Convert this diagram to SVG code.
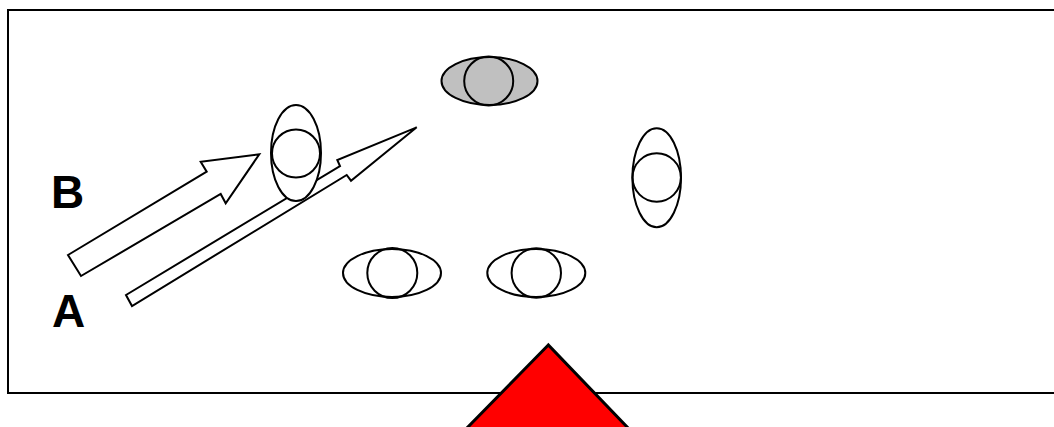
<svg xmlns="http://www.w3.org/2000/svg" width="1054" height="427" viewBox="0 0 1054 427">
<style>
.o{fill:#fff;stroke:#000;stroke-width:2}
.g{fill:#c0c0c0;stroke:#000;stroke-width:2}
.n{fill:none;stroke:#000;stroke-width:2}
.lbl{font-family:"Liberation Sans",Arial,sans-serif;font-weight:bold;font-size:46px;fill:#000}
</style>
<rect x="0" y="0" width="1054" height="427" fill="#fff"/>
<rect id="frame" x="8" y="10" width="1060" height="383" fill="#fff" stroke="#000" stroke-width="2"/>
<g id="connectors">
<polygon id="arrowB" class="o" points="68,255 206.7,171.7 200.7,161.7 259.3,154.3 225.7,203.3 220.7,194 81,276"/>
<polygon id="arrowA" class="o" points="126,295 340,166 337.3,160 416.7,127.3 351,180.7 346.7,175 132,306"/>
</g>
<g id="node1"><ellipse class="o" cx="296" cy="153" rx="25" ry="48"/><circle class="n" cx="296" cy="153.5" r="24"/></g>
<g id="node2"><ellipse class="g" cx="489.5" cy="81" rx="48" ry="24"/><circle class="n" cx="488.7" cy="81" r="24.5"/></g>
<g id="node3"><ellipse class="o" cx="392" cy="273" rx="49" ry="24"/><circle class="n" cx="392.3" cy="273" r="25"/></g>
<g id="node4"><ellipse class="o" cx="536.3" cy="273" rx="49" ry="24"/><circle class="n" cx="536.3" cy="273" r="24.7"/></g>
<g id="node5"><ellipse class="o" cx="656.7" cy="177.8" rx="24.3" ry="49.5"/><circle class="n" cx="656.7" cy="177.5" r="24.2"/></g>
<g id="triangle"><polygon points="548.3,345 465,430 630,430" fill="#f00" stroke="#000" stroke-width="3"/></g>
<text class="lbl" x="51" y="208">B</text>
<text class="lbl" x="52" y="327">A</text>
</svg>
